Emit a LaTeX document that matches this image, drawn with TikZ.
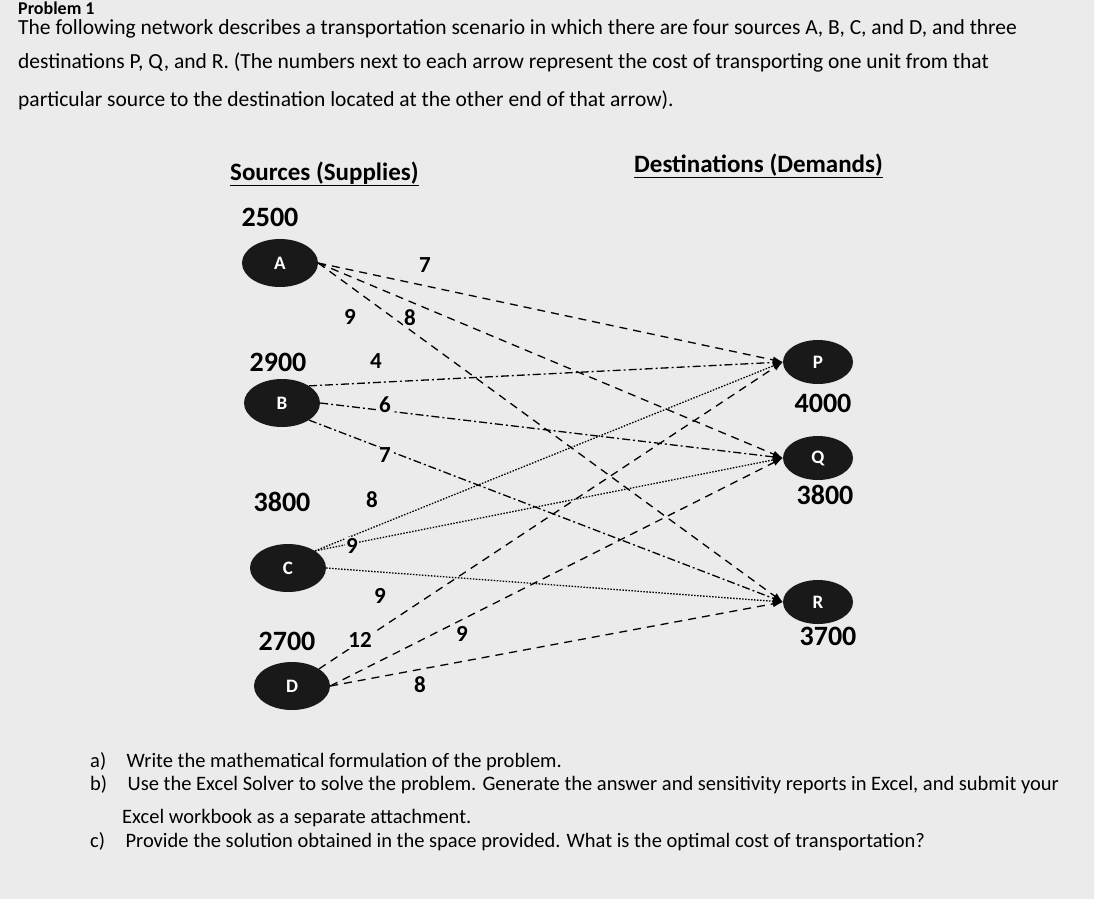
\documentclass[tikz,border=0pt]{standalone}
\usepackage{fontspec}
\setmainfont{Carlito}[BoldFont={Carlito Bold}]
\usetikzlibrary{shapes.geometric,arrows.meta}
\begin{document}
\begin{tikzpicture}[x=1pt,y=-1pt,
 every node/.style={inner sep=0pt},
 txt/.style={anchor=west,font=\fontsize{21.5}{24}\selectfont},
 num/.style={font=\fontsize{28}{30}\selectfont\bfseries},
 src/.style={ellipse,fill=black!90,minimum width=76,minimum height=48,text=white,font=\fontsize{19}{20}\selectfont\bfseries},
 dst/.style={ellipse,fill=black!90,minimum width=70,minimum height=44,text=white,font=\fontsize{19}{20}\selectfont\bfseries},
 lbl/.style={font=\fontsize{23}{25}\selectfont\bfseries,fill=black!8,inner sep=1pt},
 ar/.style={-{Latex[length=10,width=7]},line width=1.3pt},
 dA/.style={ar,dash pattern=on 8pt off 6pt},
 dB/.style={ar,dash pattern=on 8pt off 3pt on 2pt off 3pt},
 dC/.style={ar,dash pattern=on 1.5pt off 1.5pt}]
\fill[black!8] (0,0) rectangle (1094,899);
\useasboundingbox (0,0) rectangle (1094,899);
\node[txt,font=\fontsize{18}{20}\selectfont\bfseries] (t0) at (18,8) {Problem 1};
\node[txt] (t1) at (18,29) {The following network describes a transportation scenario in which there are four sources A, B, C, and D, and three};
\node[txt] (t2) at (18,62) {destinations P, Q, and R. (The numbers next to each arrow represent the cost of transporting one unit from that};
\node[txt] (t3) at (18,100) {particular source to the destination located at the other end of that arrow).};
\node[txt,font=\fontsize{25}{28}\selectfont\bfseries] (h1) at (230,174) {\underline{Sources (Supplies)}};
\node[txt,font=\fontsize{25}{28}\selectfont\bfseries] (h2) at (634,166) {\underline{Destinations (Demands)}};
\node[src] (A) at (280,263) {A};
\node[src] (B) at (282,403) {B};
\node[src] (C) at (288,568) {C};
\node[src] (D) at (292,686) {D};
\node[dst] (P) at (818,362) {P};
\node[dst] (Q) at (818,458) {Q};
\node[dst] (R) at (818,602) {R};
\node[num] (sa) at (270,217) {2500};
\node[num] (sb) at (278,362) {2900};
\node[num] (sc) at (282,502) {3800};
\node[num] (sd) at (287,641) {2700};
\node[num] (dp) at (823,403) {4000};
\node[num] (dq) at (825,495) {3800};
\node[num] (dr) at (828,636) {3700};
\draw[dA] (A.east) -- (P.west);
\draw[dA] (A.east) -- (Q.west);
\draw[dA] (A.east) -- (R.west);
\draw[dB] (B.north east) -- (P.west);
\draw[dB] (B.east) -- (Q.west);
\draw[dB] (B.south east) -- (R.west);
\draw[dC] (C.north east) -- (P.west);
\draw[dC] (C.north east) -- (Q.west);
\draw[dC] (C.east) -- (R.west);
\draw[dA] (D.north east) -- (P.west);
\draw[dA] (D.east) -- (Q.west);
\draw[dA] (D.east) -- (R.west);
\node[lbl] (l1) at (425,265) {7};
\node[lbl] (l2) at (410,318) {8};
\node[lbl] (l3) at (350,317) {9};
\node[lbl] (l4) at (376,361) {4};
\node[lbl] (l5) at (385,405) {6};
\node[lbl] (l6) at (385,455) {7};
\node[lbl] (l7) at (372,500) {8};
\node[lbl] (l8) at (352,546) {9};
\node[lbl] (l9) at (380,596) {9};
\node[lbl] (l10) at (360,640) {12};
\node[lbl] (l11) at (462,634) {9};
\node[lbl] (l12) at (420,685) {8};
\node[txt,font=\fontsize{20.5}{23}\selectfont] (qa) at (90,762) {a)\quad Write the mathematical formulation of the problem.};
\node[txt,font=\fontsize{20.5}{23}\selectfont] (qb) at (90,785) {b)\quad Use the Excel Solver to solve the problem. Generate the answer and sensitivity reports in Excel, and submit your};
\node[txt,font=\fontsize{20.5}{23}\selectfont] (qb2) at (122,818) {Excel workbook as a separate attachment.};
\node[txt,font=\fontsize{20.5}{23}\selectfont] (qc) at (90,842) {c)\quad Provide the solution obtained in the space provided. What is the optimal cost of transportation?};
\end{tikzpicture}
\end{document}
